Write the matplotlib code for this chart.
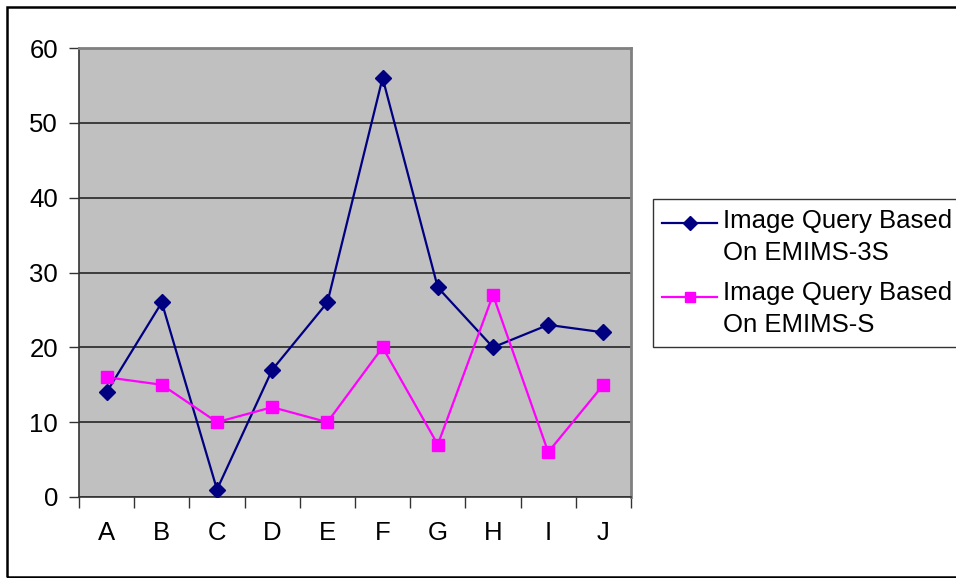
import numpy as np
import matplotlib.pyplot as plt
from matplotlib.patches import Rectangle
from matplotlib.lines import Line2D

plt.rcParams['font.family'] = ['Liberation Sans', 'DejaVu Sans']

categories = ['A', 'B', 'C', 'D', 'E', 'F', 'G', 'H', 'I', 'J']
emims_3s = [14, 26, 1, 17, 26, 56, 28, 20, 23, 22]
emims_s = [16, 15, 10, 12, 10, 20, 7, 27, 6, 15]
y_ticks = [0, 10, 20, 30, 40, 50, 60]
series_names = [['Image Query Based', 'On EMIMS-3S'],
                ['Image Query Based', 'On EMIMS-S']]

W, H = 956, 578
FS = 18.5
fig = plt.figure(figsize=(W / 100, H / 100), dpi=100)


def fx(px):
    return px / W


def fy(py):
    return 1 - py / H


# outer chart border (right side runs off the image)
fig.patches.append(Rectangle((fx(6.5), fy(577)), 1.0, (577 - 6.5) / H,
                             transform=fig.transFigure, fill=False,
                             edgecolor='black', linewidth=1.8, zorder=0))

ax = fig.add_axes([fx(79), fy(497), (631 - 79) / W, (497 - 48) / H])
ax.set_facecolor('#C0C0C0')

styles = [dict(color='#000080', marker='D', markersize=8.5),
          dict(color='#FF00FF', marker='s', markersize=8.5)]

x = np.arange(len(categories))
for vals, st in zip([emims_3s, emims_s], styles):
    ax.plot(x, vals, linewidth=1.6, zorder=3, **st)

ax.set_xlim(-0.5, len(categories) - 0.5)
ax.set_ylim(0, 60)
ax.set_yticks(y_ticks)
ax.yaxis.grid(True, color='#262626', linewidth=1.2)
ax.set_axisbelow(True)

ax.set_xticks(x)
ax.set_xticklabels(categories)
ax.set_xticks(np.arange(-0.5, len(categories)), minor=True)
ax.tick_params(axis='x', which='major', length=0, pad=17, labelsize=FS)
ax.tick_params(axis='x', which='minor', length=8, width=1, color='#333333')
ax.tick_params(axis='y', length=7, width=1, color='#333333', pad=8, labelsize=FS)

for side in ['top', 'right']:
    ax.spines[side].set_color('#808080')
    ax.spines[side].set_linewidth(2)
for side in ['left', 'bottom']:
    ax.spines[side].set_color('#333333')
    ax.spines[side].set_linewidth(1.2)

# legend drawn by hand (handle sits on the first text line, box runs off the edge)
fig.patches.append(Rectangle((fx(653), fy(347)), 1.0, (347 - 199) / H,
                             transform=fig.transFigure, facecolor='white',
                             edgecolor='#333333', linewidth=1, zorder=1))
handle_y = [222.5, 296.5]
baselines = [[228, 260], [300, 332]]
for st, hy, names, bls in zip(styles, handle_y, series_names, baselines):
    fig.add_artist(Line2D([fx(662), fx(717)], [fy(hy), fy(hy)], color=st['color'],
                          linewidth=1.6, zorder=2))
    fig.add_artist(Line2D([fx(689.5)], [fy(hy)], color=st['color'], marker=st['marker'],
                          markersize=st['markersize'] - 1, zorder=3))
    for name, bl in zip(names, bls):
        fig.text(fx(723), fy(bl), name, fontsize=FS, va='baseline', ha='left', zorder=3)

fig.savefig('out.png', dpi=100)
